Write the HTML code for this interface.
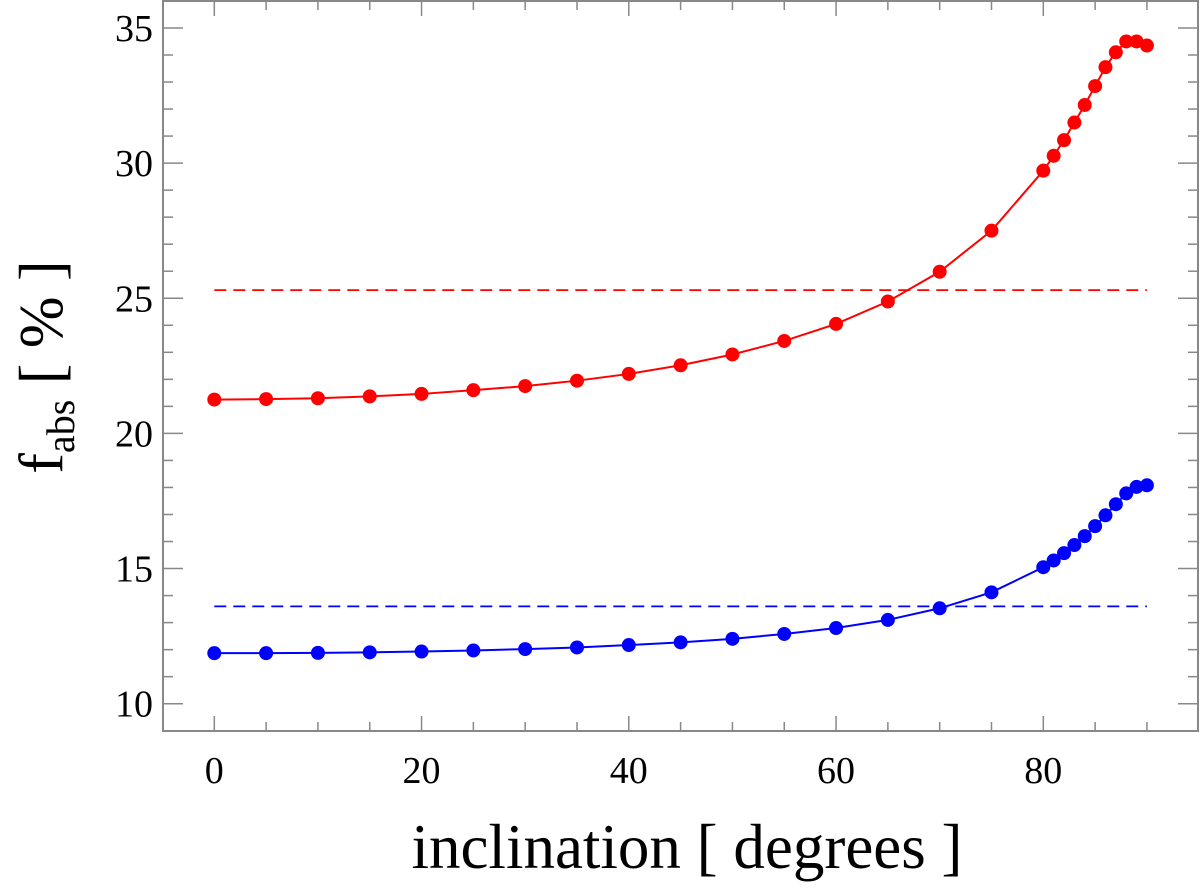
<!DOCTYPE html>
<html><head><meta charset="utf-8"><style>
body{margin:0;background:#fff;}
svg text{font-family:"Liberation Serif",serif;fill:#000;}
</style></head><body>
<svg id="chart" width="1200" height="889" xmlns="http://www.w3.org/2000/svg">
<g id="grid"></g>
<g id="marks"></g>
<text x="687" y="868" font-size="63" text-anchor="middle">inclination [ degrees ]</text>
<g transform="translate(62,367) rotate(-90)">
<text x="0" y="0" font-size="62" text-anchor="middle">f<tspan font-size="40" dy="12">abs</tspan><tspan dy="-12"> [ % ]</tspan></text>
</g>
</svg>
<script>
const inclinations=[0,5,10,15,20,25,30,35,40,45,50,55,60,65,70,75,80,81,82,83,84,85,86,87,88,89,90];
const redValues=[21.25,21.27,21.3,21.37,21.46,21.6,21.75,21.95,22.2,22.52,22.92,23.42,24.05,24.88,25.98,27.5,29.72,30.27,30.85,31.5,32.15,32.85,33.55,34.1,34.5,34.5,34.35];
const blueValues=[11.87,11.87,11.88,11.9,11.93,11.97,12.02,12.08,12.17,12.27,12.4,12.58,12.8,13.1,13.53,14.12,15.05,15.3,15.57,15.87,16.2,16.57,16.97,17.38,17.78,18.02,18.08];
const redAverage=[25.3];
const blueAverage=[13.6];
const xTicks=[0,20,40,60,80];
const yTicks=[10,15,20,25,30,35];
const NS="http://www.w3.org/2000/svg";
const X=v=>214.3+v*10.3625;
const Y=v=>703.7-(v-10)*27.03;
const L=163,R=1198,T=1,B=731;
function mk(tag,attrs,parent){const e=document.createElementNS(NS,tag);for(const k in attrs)e.setAttribute(k,attrs[k]);parent.appendChild(e);return e;}
const g=document.getElementById('grid'),m=document.getElementById('marks');
const frame=mk('rect',{x:L,y:T,width:R-L,height:B-T,fill:'none',stroke:'#888','stroke-width':2},g);


for(let v=-10;v<=95;v+=5){const x=X(v);if(x<=L+1||x>=R-1)continue;const major=v%20===0;const len=major?15:9;
mk('line',{x1:x,y1:B,x2:x,y2:B-len,stroke:'#888','stroke-width':1.5},g);
mk('line',{x1:x,y1:T,x2:x,y2:T+len,stroke:'#888','stroke-width':1.5},g);}
for(let v=9;v<=36;v+=1){const y=Y(v);if(y<=T+1||y>=B-1)continue;const major=v%5===0;const len=major?20:10;
mk('line',{x1:L,y1:y,x2:L+len,y2:y,stroke:'#888','stroke-width':1.5},g);
mk('line',{x1:R,y1:y,x2:R-len,y2:y,stroke:'#888','stroke-width':1.5},g);}
xTicks.forEach(v=>{const t=mk('text',{x:X(v),y:783,'font-size':38,'text-anchor':'middle'},g);t.textContent=v;

});
yTicks.forEach(v=>{const t=mk('text',{x:153,y:Y(v)+13,'font-size':38,'text-anchor':'end'},g);t.textContent=v;

});
function series(vals,avg,color,name){
const d=mk('line',{x1:X(inclinations[0]),x2:X(inclinations[inclinations.length-1]),y1:Y(avg[0]),y2:Y(avg[0]),stroke:color,'stroke-width':1.8,'stroke-dasharray':'12,7'},m);


const p=mk('polyline',{points:inclinations.map((x,i)=>X(x)+','+Y(vals[i])).join(' '),fill:'none',stroke:color,'stroke-width':2},m);


inclinations.forEach((x,i)=>{const c=mk('circle',{cx:X(x),cy:Y(vals[i]),r:7,fill:color},m);

});
}
series(redValues,redAverage,'#ff0000','red-series');
series(blueValues,blueAverage,'#0000ff','blue-series');
</script>
</body></html>
